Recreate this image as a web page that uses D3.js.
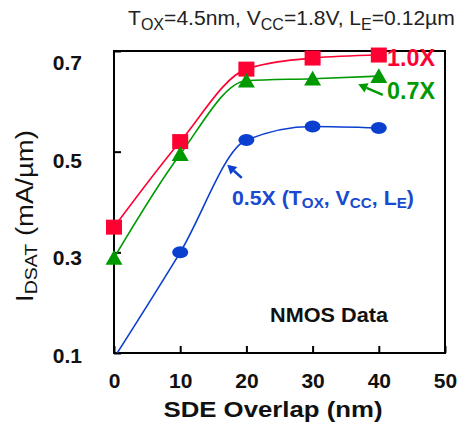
<!DOCTYPE html>
<html>
    <head>
        <meta charset="utf-8">
        <title>IDSAT vs SDE overlap</title>
        <style>
            body { margin: 0; background: #fff; }
            text { font-family: "Liberation Sans", Arial, sans-serif; }
        </style>
    </head>
    <body>

        <script type="text/javascript" src="https://d3js.org/d3.v7.min.js"></script>
        <script type="text/javascript">
            // data
            var overlap = [0, 10, 20, 30, 40];
            var ids10 = [0.350, 0.520, 0.664, 0.686, 0.692];
            var ids07 = [0.289, 0.495, 0.641, 0.645, 0.650];
            var ids05 = [0.090, 0.300, 0.523, 0.550, 0.547];
            var xTicks = [0, 10, 20, 30, 40, 50];
            var yTicks = [0.1, 0.3, 0.5, 0.7];

            var width = 462, height = 425;
            var plotLeft = 114, plotRight = 445, plotTop = 51, plotBottom = 353;

            var red = '#ff0033', green = '#009a00', blue = '#0b3fd0';

            var x = d3.scaleLinear().domain([0, 50]).range([plotLeft, plotRight]);
            var y = d3.scaleLinear().domain([0.1, 0.7]).range([plotBottom, plotTop]);
            // tick labels in the picture sit slightly off the tick marks
            var yLab = d3.scaleLinear().domain([0.1, 0.7]).range([355, 62.5]);

            var svg = d3.select('body')
                .append('svg')
                .attr('width', width)
                .attr('height', height);

            svg.append('defs').append('clipPath')
                .attr('id', 'plot')
                .append('rect')
                .attr('x', plotLeft).attr('y', plotTop)
                .attr('width', plotRight - plotLeft).attr('height', plotBottom - plotTop);

            // axes, ticks pointing inwards
            var xAxis = svg.append('g')
                .attr('transform', 'translate(0,' + plotBottom + ')')
                .call(d3.axisBottom(x).tickValues(xTicks).tickSizeInner(-7).tickSizeOuter(0).tickPadding(20));
            xAxis.select('.domain').remove();
            xAxis.selectAll('line').attr('stroke', '#000').attr('stroke-width', 2);
            xAxis.selectAll('text')
                .attr('font-size', 21).attr('font-weight', 'bold').attr('fill', '#111')
                .attr('font-family', '"Liberation Sans", Arial, sans-serif');

            var yAxis = svg.append('g')
                .attr('transform', 'translate(' + plotLeft + ',0)')
                .call(d3.axisLeft(y).tickValues(yTicks).tickSizeInner(-7).tickSizeOuter(0).tickFormat(''));
            yAxis.select('.domain').remove();
            yAxis.selectAll('line').attr('stroke', '#000').attr('stroke-width', 2);

            svg.selectAll('.ylab')
                .data(yTicks)
                .enter()
                .append('text')
                .attr('class', 'ylab')
                .attr('x', 82)
                .attr('y', function(d){ return yLab(d); })
                .attr('dy', '0.36em')
                .attr('text-anchor', 'end')
                .attr('font-size', 21)
                .attr('font-weight', 'bold')
                .attr('fill', '#111')
                .text(d3.format('.1f'));

            svg.append('rect')
                .attr('x', plotLeft).attr('y', plotTop)
                .attr('width', plotRight - plotLeft).attr('height', plotBottom - plotTop)
                .attr('fill', 'none')
                .attr('stroke', '#000')
                .attr('stroke-width', 2);

            // curves
            var line = d3.line()
                .x(function(d){ return x(d[0]); })
                .y(function(d){ return y(d[1]); })
                .curve(d3.curveMonotoneX);

            var series = [
                {vals: ids10, color: red, shape: 'square'},
                {vals: ids07, color: green, shape: 'triangle'},
                {vals: ids05, color: blue, shape: 'circle'}
            ];

            var lines = svg.append('g').attr('clip-path', 'url(#plot)');
            series.forEach(function(s){
                lines.append('path')
                    .datum(d3.zip(overlap, s.vals))
                    .attr('d', line)
                    .attr('fill', 'none')
                    .attr('stroke', s.color)
                    .attr('stroke-width', 1.6);
            });

            var tri = d3.symbol().type(d3.symbolTriangle).size(125);
            series.forEach(function(s){
                var pts = d3.zip(overlap, s.vals).filter(function(d){ return d[1] >= 0.1; });
                var g = svg.append('g');
                if (s.shape === 'square') {
                    g.selectAll('rect').data(pts).enter().append('rect')
                        .attr('x', function(d){ return x(d[0]) - 8; })
                        .attr('y', function(d){ return y(d[1]) - 7.5; })
                        .attr('width', 16).attr('height', 15)
                        .attr('fill', s.color);
                } else if (s.shape === 'triangle') {
                    g.selectAll('path').data(pts).enter().append('path')
                        .attr('d', tri)
                        .attr('transform', function(d){ return 'translate(' + x(d[0]) + ',' + (y(d[1]) + 2) + ')'; })
                        .attr('fill', s.color);
                } else {
                    g.selectAll('ellipse').data(pts).enter().append('ellipse')
                        .attr('cx', function(d){ return x(d[0]); })
                        .attr('cy', function(d){ return y(d[1]); })
                        .attr('rx', 8).attr('ry', 6)
                        .attr('fill', s.color);
                }
            });

            // arrows
            function arrow(x0, y0, x1, y1, color) {
                var ax = x(x0), ay = y(y0), bx = x(x1), by = y(y1);
                var ang = Math.atan2(by - ay, bx - ax);
                var hl = 9, hw = 5;
                var ex = bx - hl * Math.cos(ang), ey = by - hl * Math.sin(ang);
                svg.append('line')
                    .attr('x1', ax).attr('y1', ay).attr('x2', ex).attr('y2', ey)
                    .attr('stroke', color).attr('stroke-width', 2.5);
                svg.append('path')
                    .attr('d', 'M' + bx + ',' + by +
                        'L' + (ex + hw * Math.sin(ang)) + ',' + (ey - hw * Math.cos(ang)) +
                        'L' + (ex - hw * Math.sin(ang)) + ',' + (ey + hw * Math.cos(ang)) + 'Z')
                    .attr('fill', color);
            }
            arrow(40.6, 0.613, 36.9, 0.634, green);
            arrow(19.3, 0.448, 17.1, 0.474, blue);

            // text helpers: the source text is wider than the font, so stretch it to the measured width
            function label(px, py, size, bold, color, parts, sub, shift, target, rot) {
                var t = svg.append('text')
                    .attr('font-size', size)
                    .attr('font-weight', bold ? 'bold' : 'normal')
                    .attr('fill', color)
                    .attr('text-anchor', rot ? 'middle' : 'start');
                parts.forEach(function(p, i){
                    var ts = t.append('tspan').text(p);
                    var isSub = i % 2 === 1;
                    if (isSub) ts.attr('font-size', sub).attr('dy', shift);
                    else if (i > 0) ts.attr('dy', -shift);
                });
                var w = t.node().getComputedTextLength();
                var k = target / w;
                t.attr('transform', 'translate(' + px + ',' + py + ')' + (rot ? ' rotate(-90)' : '') + ' scale(' + k + ',1)');
                return t;
            }

            label(387, 66, 23, true, red, ['1.0X'], 0, 0, 48);
            label(387, 99, 23, true, green, ['0.7X'], 0, 0, 48);
            label(232, 205, 21, true, '#1a4ad0',
                ['0.5X (T', 'OX', ', V', 'CC', ', L', 'E', ')'], 15, 3, 182);
            label(270, 322, 19.5, true, '#111', ['NMOS Data'], 0, 0, 118);
            label(128, 25, 21, false, '#222',
                ['T', 'OX', '=4.5nm, V', 'CC', '=1.8V, L', 'E', '=0.12\u00b5m'], 16, 5, 327);
            svg.append('text')
                .attr('x', 273).attr('y', 417)
                .attr('text-anchor', 'middle')
                .attr('font-size', 22).attr('font-weight', 'bold')
                .attr('fill', '#111')
                .attr('textLength', 219).attr('lengthAdjust', 'spacingAndGlyphs')
                .text('SDE Overlap (nm)');
            label(33, 216, 24, false, '#111', ['I', 'DSAT', ' (mA/\u00b5m)'], 17, 4, 172, true);
        </script>
        
    </body>
</html>
